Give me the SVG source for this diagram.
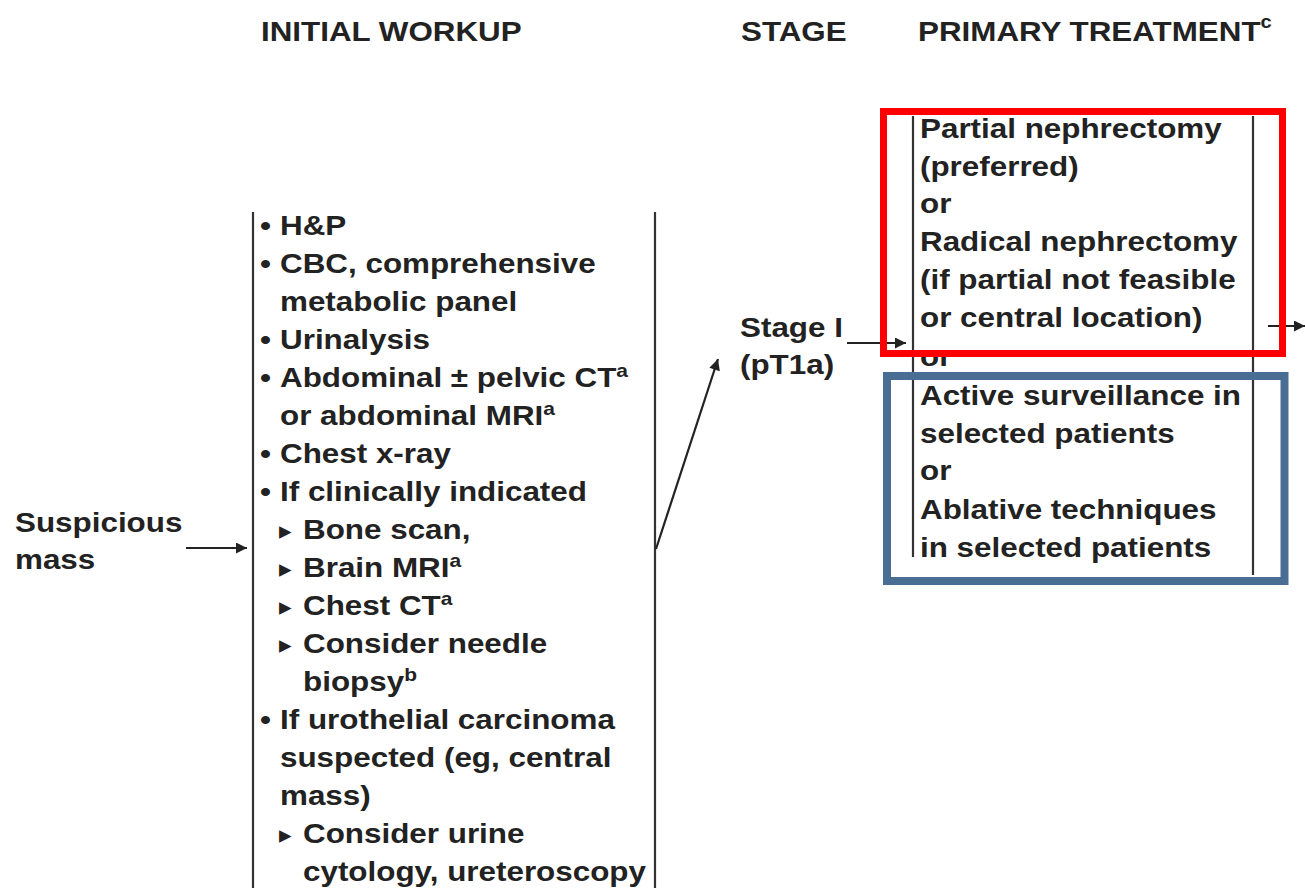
<svg xmlns="http://www.w3.org/2000/svg" width="1305" height="888" viewBox="0 0 1305 888">
<style>
text{font-family:"Liberation Sans",Arial,sans-serif;font-weight:bold;font-size:27px;fill:#222}
.hd{font-size:28px}
.sup{font-size:18px}
.tri{font-family:"DejaVu Sans",sans-serif;font-size:25px}
.ln{stroke:#333;stroke-width:2.2;fill:none}
.con{stroke:#222;stroke-width:2.2;fill:none}
</style>
<defs>
<marker id="ah" viewBox="0 0 10 10" refX="10" refY="5" markerWidth="15" markerHeight="11" markerUnits="userSpaceOnUse" orient="auto">
<path d="M0,0 L10,5 L0,10 z" fill="#222"/>
</marker>
</defs>
<rect width="1305" height="888" fill="#fff"/>
<g id="headers">
<text class="hd" transform="translate(261 41) scale(1.12 1)">INITIAL WORKUP</text>
<text class="hd" transform="translate(741 41) scale(1.12 1)">STAGE</text>
<text class="hd" transform="translate(918 41) scale(1.12 1)">PRIMARY TREATMENT<tspan class="sup" dy="-13">c</tspan></text>
</g>
<g id="suspicious-mass">
<text transform="translate(15 532) scale(1.163 1)">Suspicious</text>
<text transform="translate(15 569) scale(1.163 1)">mass</text>
</g>
<g id="initial-workup">
<line class="ln" x1="253" y1="212" x2="253" y2="888"/>
<line class="ln" x1="655" y1="212" x2="655" y2="888"/>
<text transform="translate(260 235) scale(1.163 1)">•</text>
<text transform="translate(280 235) scale(1.163 1)">H&amp;P</text>
<text transform="translate(260 273) scale(1.163 1)">•</text>
<text transform="translate(280 273) scale(1.163 1)">CBC, comprehensive</text>
<text transform="translate(280 311) scale(1.163 1)">metabolic panel</text>
<text transform="translate(260 349) scale(1.163 1)">•</text>
<text transform="translate(280 349) scale(1.163 1)">Urinalysis</text>
<text transform="translate(260 387) scale(1.163 1)">•</text>
<text transform="translate(280 387) scale(1.163 1)">Abdominal ± pelvic CT<tspan class="sup" dy="-10">a</tspan></text>
<text transform="translate(280 425) scale(1.163 1)">or abdominal MRI<tspan class="sup" dy="-10">a</tspan></text>
<text transform="translate(260 463) scale(1.163 1)">•</text>
<text transform="translate(280 463) scale(1.163 1)">Chest x-ray</text>
<text transform="translate(260 501) scale(1.163 1)">•</text>
<text transform="translate(280 501) scale(1.163 1)">If clinically indicated</text>
<text class="tri" x="279" y="539">▸</text>
<text transform="translate(303 539) scale(1.163 1)">Bone scan,</text>
<text class="tri" x="279" y="577">▸</text>
<text transform="translate(303 577) scale(1.163 1)">Brain MRI<tspan class="sup" dy="-10">a</tspan></text>
<text class="tri" x="279" y="615">▸</text>
<text transform="translate(303 615) scale(1.163 1)">Chest CT<tspan class="sup" dy="-10">a</tspan></text>
<text class="tri" x="279" y="653">▸</text>
<text transform="translate(303 653) scale(1.163 1)">Consider needle</text>
<text transform="translate(303 691) scale(1.163 1)">biopsy<tspan class="sup" dy="-10">b</tspan></text>
<text transform="translate(260 729) scale(1.163 1)">•</text>
<text transform="translate(280 729) scale(1.163 1)">If urothelial carcinoma</text>
<text transform="translate(280 767) scale(1.163 1)">suspected (eg, central</text>
<text transform="translate(280 805) scale(1.163 1)">mass)</text>
<text class="tri" x="279" y="843">▸</text>
<text transform="translate(303 843) scale(1.163 1)">Consider urine</text>
<text transform="translate(303 881) scale(1.163 1)">cytology, ureteroscopy</text>
</g>
<g id="stage">
<text transform="translate(740 337) scale(1.163 1)">Stage I</text>
<text transform="translate(740 374) scale(1.163 1)">(pT1a)</text>
</g>
<g id="primary-treatment">
<line class="ln" x1="913" y1="116" x2="913" y2="557"/>
<line class="ln" x1="1253" y1="116" x2="1253" y2="575"/>
<text transform="translate(920 138) scale(1.163 1)">Partial nephrectomy</text>
<text transform="translate(920 176) scale(1.163 1)">(preferred)</text>
<text transform="translate(920 213) scale(1.163 1)">or</text>
<text transform="translate(920 251) scale(1.163 1)">Radical nephrectomy</text>
<text transform="translate(920 289) scale(1.163 1)">(if partial not feasible</text>
<text transform="translate(920 327) scale(1.163 1)">or central location)</text>
<text transform="translate(920 366) scale(1.163 1)">or</text>
<text transform="translate(920 405) scale(1.163 1)">Active surveillance in</text>
<text transform="translate(920 443) scale(1.163 1)">selected patients</text>
<text transform="translate(920 480) scale(1.163 1)">or</text>
<text transform="translate(920 519) scale(1.163 1)">Ablative techniques</text>
<text transform="translate(920 557) scale(1.163 1)">in selected patients</text>
</g>
<g id="connectors">
<line class="con" x1="186" y1="548" x2="247" y2="548" marker-end="url(#ah)"/>
<line class="con" x1="656" y1="549" x2="718" y2="359" marker-end="url(#ah)"/>
<line class="con" x1="847" y1="343" x2="906" y2="343" marker-end="url(#ah)"/>
<line class="con" x1="1268" y1="326" x2="1305" y2="326" marker-end="url(#ah)"/>
</g>
<g id="highlights">
<rect x="883.5" y="111.5" width="399" height="242" fill="none" stroke="#ff0000" stroke-width="7"/>
<rect x="887" y="376" width="397.5" height="205" fill="none" stroke="#4a6d94" stroke-width="8"/>
</g>
</svg>
